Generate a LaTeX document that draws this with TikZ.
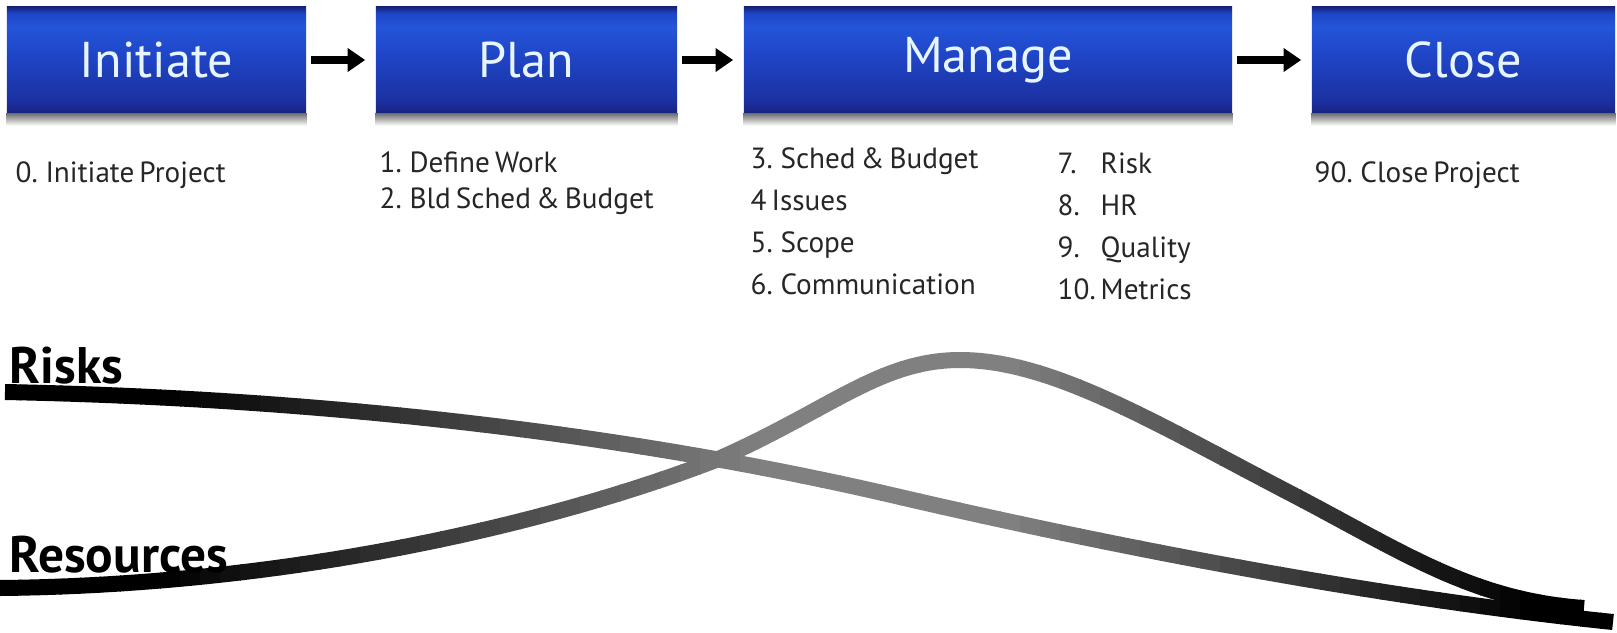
\documentclass[tikz,border=0pt]{standalone}
\usepackage{fontspec}
\setmainfont{PT Sans}[WordSpace=0.65]
\usetikzlibrary{arrows.meta}

\definecolor{boxedge}{HTML}{17237E}
\definecolor{boxdark}{HTML}{1B31A2}
\definecolor{boxmid}{HTML}{1F45C6}
\definecolor{boxlight}{HTML}{2455DA}
\definecolor{boxtext}{HTML}{E6F5FF}
\pgfdeclareverticalshading{boxblue}{100bp}{color(0bp)=(boxedge); color(25bp)=(boxedge);
  color(31bp)=(boxdark); color(52bp)=(boxmid); color(66bp)=(boxlight);
  color(72bp)=(boxmid); color(75bp)=(boxedge); color(100bp)=(boxedge)}
\newcommand{\tasknum}[1]{\makebox[0.43cm][l]{#1}}

\begin{document}
\begin{tikzpicture}[x=0.01cm,y=-0.01cm,
    phase/.style={shading=boxblue,text=boxtext,inner sep=0pt,minimum height=1.06cm,
      font=\fontsize{14.3}{16}\selectfont},
    flow/.style={line width=2pt,-{Triangle[length=5pt,width=6.5pt]},
      shorten <=0.04cm,shorten >=0.1cm},
    task/.style={anchor=base west,inner sep=0pt,text=black!85,
      font=\fontsize{8.3}{10}\selectfont},
    curve/.style={line width=0.16cm},
    curvelabel/.style={anchor=base west,inner sep=0pt,
      font=\fontsize{14.6}{16}\selectfont\bfseries}]
  \useasboundingbox (0,0) rectangle (1617,633);

  % phases
  \node[phase,minimum width=2.99cm] (initiate) at (156.5,60) {Initiate};
  \node[phase,minimum width=3.01cm] (plan) at (526.5,60) {Plan};
  \node[phase,minimum width=4.88cm] (manage) at (988,60) {Manage};
  \node[phase,minimum width=3.03cm] (close) at (1463.5,60) {Close};
  \foreach \n in {initiate,plan,manage,close}
    \shade[top color=black!55,bottom color=white] (\n.south west) rectangle ([yshift=-0.12cm]\n.south east);

  \draw[flow] (initiate) -- (plan);
  \draw[flow] (plan) -- (manage);
  \draw[flow] (manage) -- (close);

  % tasks
  \node[task] (t0) at (15,182) {0. Initiate Project};
  \node[task] (t1) at (379,172) {1. Define Work};
  \node[task] (t2) at (379,208) {2. Bld Sched \& Budget};
  \foreach \t [count=\i] in {3. Sched \& Budget,4 Issues,5. Scope,6. Communication}
    \node[task] (mg\i) at (750,126+42*\i) {\t};
  \foreach \a/\b [count=\i] in {7./Risk,8./HR,9./Quality,10./Metrics}
    \node[task] (mh\i) at (1057,131+42*\i) {\tasknum{\a}\b};
  \node[task] (t90) at (1314,182) {90. Close Project};

  % curves
  \path[save path=\riskpath] (5,392) .. controls (400,400) and (700,450) .. (900,497)
    .. controls (1150,555) and (1400,600) .. (1613,622);
  \path[save path=\resourcepath] (0,588) .. controls (300,585) and (560,520) .. (716,460)
    .. controls (830,410) and (880,360) .. (960,360)
    .. controls (1050,360) and (1150,420) .. (1284,490)
    .. controls (1400,550) and (1470,600) .. (1584,608);
  \foreach \x in {0,20,...,1600}{
    \pgfmathsetmacro{\tone}{100-50*max(0,min(1,(\x-150)/600,(1520-\x)/520))}
    \begin{scope}
      \clip (\x,0) rectangle (\x+21,633);
      \draw[curve,black!\tone,use path=\riskpath];
      \draw[curve,black!\tone,use path=\resourcepath];
    \end{scope}
  }
  \node[curvelabel] (risks) at (9,383) {Risks};
  \node[curvelabel] (resources) at (9,572) {Resources};
\end{tikzpicture}
\end{document}
